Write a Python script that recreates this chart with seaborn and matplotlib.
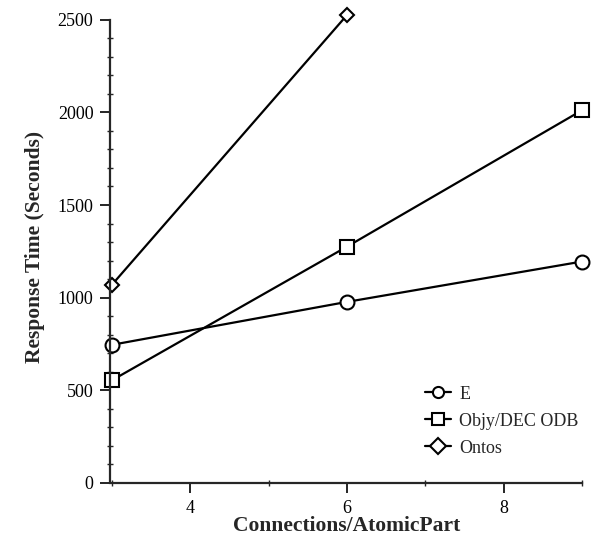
import matplotlib
matplotlib.use("Agg")
import matplotlib.pyplot as plt
import seaborn as sns
import pandas as pd
from matplotlib.ticker import MultipleLocator

sns.set_style("ticks")
plt.rcParams['font.family'] = ['Liberation Serif', 'DejaVu Serif']

series_names = ["E", "Objy/DEC ODB", "Ontos"]
x_E = [3, 6, 9]
y_E = [745, 977, 1195]
x_Objy = [3, 6, 9]
y_Objy = [553, 1275, 2012]
x_Ontos = [3, 6]
y_Ontos = [1068, 2525]
markers = ["o", "s", "D"]
msizes = [10, 10, 7]

fig = plt.figure(figsize=(5.92, 5.45), dpi=100)
ax = fig.add_axes([0.186, 0.114, 0.804, 0.865])

for name, xs, ys, m, ms in zip(series_names, [x_E, x_Objy, x_Ontos],
                               [y_E, y_Objy, y_Ontos], markers, msizes):
    df = pd.DataFrame({"x": xs, "y": ys})
    sns.lineplot(data=df, x="x", y="y", ax=ax, color="black", marker=m,
                 markersize=ms, markerfacecolor="white", markeredgecolor="black",
                 markeredgewidth=1.5, linewidth=1.6, label=name, clip_on=False)

ax.set_xlim(2.98, 9.05)
ax.set_ylim(0, 2545)
ax.spines['top'].set_visible(False)
ax.spines['right'].set_visible(False)
ax.spines['left'].set_bounds(0, 2500)
ax.spines['bottom'].set_bounds(3, 9)
ax.spines['left'].set_linewidth(1.6)
ax.spines['bottom'].set_linewidth(1.6)
ax.set_xticks([4, 6, 8])
ax.set_yticks([0, 500, 1000, 1500, 2000, 2500])
ax.xaxis.set_minor_locator(MultipleLocator(1))
ax.yaxis.set_minor_locator(MultipleLocator(100))
ax.tick_params(axis='both', which='major', direction='out', length=7, width=1.2,
               labelsize=13, colors='black', pad=5)
ax.tick_params(axis='both', which='minor', direction='inout', length=4, width=1.0)
ax.set_xlabel("Connections/AtomicPart", fontsize=15.5, fontweight='bold')
ax.set_ylabel("Response Time (Seconds)", fontsize=15.5, fontweight='bold')
ax.yaxis.set_label_coords(-0.137, 0.5)
ax.xaxis.set_label_coords(0.496, -0.07)

leg = ax.legend(loc='upper left', bbox_to_anchor=(0.69, 0.322),
                bbox_transform=fig.transFigure, frameon=False, fontsize=13,
                handlelength=1.45, handletextpad=0.45, labelspacing=0.55)
for h in leg.legend_handles:
    h.set_markersize(8)

fig.savefig("out.png", dpi=100)
